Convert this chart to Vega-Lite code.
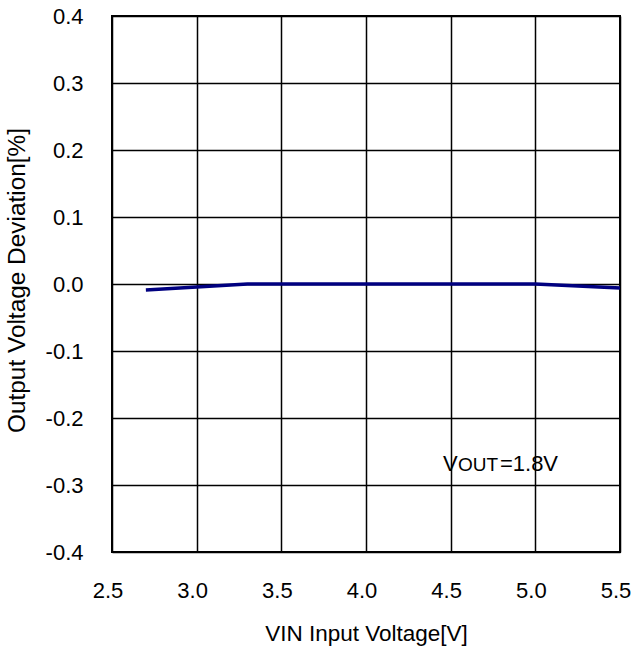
{
  "$schema": "https://vega.github.io/schema/vega-lite/v6.json",
  "autosize": {"type": "none"},
  "padding": {"left": 112, "top": 16, "right": 15, "bottom": 98},
  "width": 508,
  "height": 536,
  "background": "white",
  "config": {
    "font": "Liberation Sans",
    "view": {"stroke": "black", "strokeWidth": 2},
    "axis": {
      "labelFont": "Liberation Sans",
      "titleFont": "Liberation Sans",
      "labelFontSize": 22,
      "titleFontSize": 22.5,
      "titleFontWeight": "normal",
      "labelColor": "black",
      "titleColor": "black",
      "grid": true,
      "gridColor": "black",
      "gridWidth": 1.5,
      "gridOpacity": 1,
      "ticks": false,
      "domain": false,
      "labelFlush": false
    }
  },
  "layer": [
    {
      "data": {"values": [
        {"vin": 2.7, "dev": -0.009},
        {"vin": 3.0, "dev": -0.0045},
        {"vin": 3.3, "dev": 0.0},
        {"vin": 3.5, "dev": 0.0},
        {"vin": 4.0, "dev": 0.0},
        {"vin": 4.5, "dev": 0.0},
        {"vin": 5.0, "dev": 0.0},
        {"vin": 5.5, "dev": -0.006}
      ]},
      "mark": {"type": "line", "color": "#000080", "strokeWidth": 3.5},
      "encoding": {
        "x": {
          "field": "vin", "type": "quantitative",
          "scale": {"domain": [2.5, 5.5], "nice": false, "zero": false},
          "axis": {"values": [2.5, 3.0, 3.5, 4.0, 4.5, 5.0, 5.5], "labelExpr": "format(datum.value, '.1f')", "labelPadding": 28, "labelOffset": -4.5, "title": "VIN Input Voltage[V]", "titlePadding": 21}
        },
        "y": {
          "field": "dev", "type": "quantitative",
          "scale": {"domain": [-0.4, 0.4], "nice": false, "zero": false},
          "axis": {"values": [-0.4, -0.3, -0.2, -0.1, 0.0, 0.1, 0.2, 0.3, 0.4], "labelExpr": "replace(format(datum.value, '.1f'), '\u2212', '-')", "labelPadding": 29, "title": "Output Voltage Deviation[%]", "titleFontSize": 24.4, "titleX": -83, "titleY": 264}
        }
      }
    },
    {
      "data": {"values": [{"vin": 4.455, "dev": -0.279, "t": "V"}]},
      "mark": {"type": "text", "align": "left", "baseline": "alphabetic", "fontSize": 22, "color": "black"},
      "encoding": {
        "x": {"field": "vin", "type": "quantitative"},
        "y": {"field": "dev", "type": "quantitative"},
        "text": {"field": "t"}
      }
    },
    {
      "data": {"values": [{"vin": 4.543, "dev": -0.279, "t": "OUT"}]},
      "mark": {"type": "text", "align": "left", "baseline": "alphabetic", "fontSize": 19, "color": "black"},
      "encoding": {
        "x": {"field": "vin", "type": "quantitative"},
        "y": {"field": "dev", "type": "quantitative"},
        "text": {"field": "t"}
      }
    },
    {
      "data": {"values": [{"vin": 4.791, "dev": -0.279, "t": "=1.8V"}]},
      "mark": {"type": "text", "align": "left", "baseline": "alphabetic", "fontSize": 22, "color": "black"},
      "encoding": {
        "x": {"field": "vin", "type": "quantitative"},
        "y": {"field": "dev", "type": "quantitative"},
        "text": {"field": "t"}
      }
    }
  ]
}
